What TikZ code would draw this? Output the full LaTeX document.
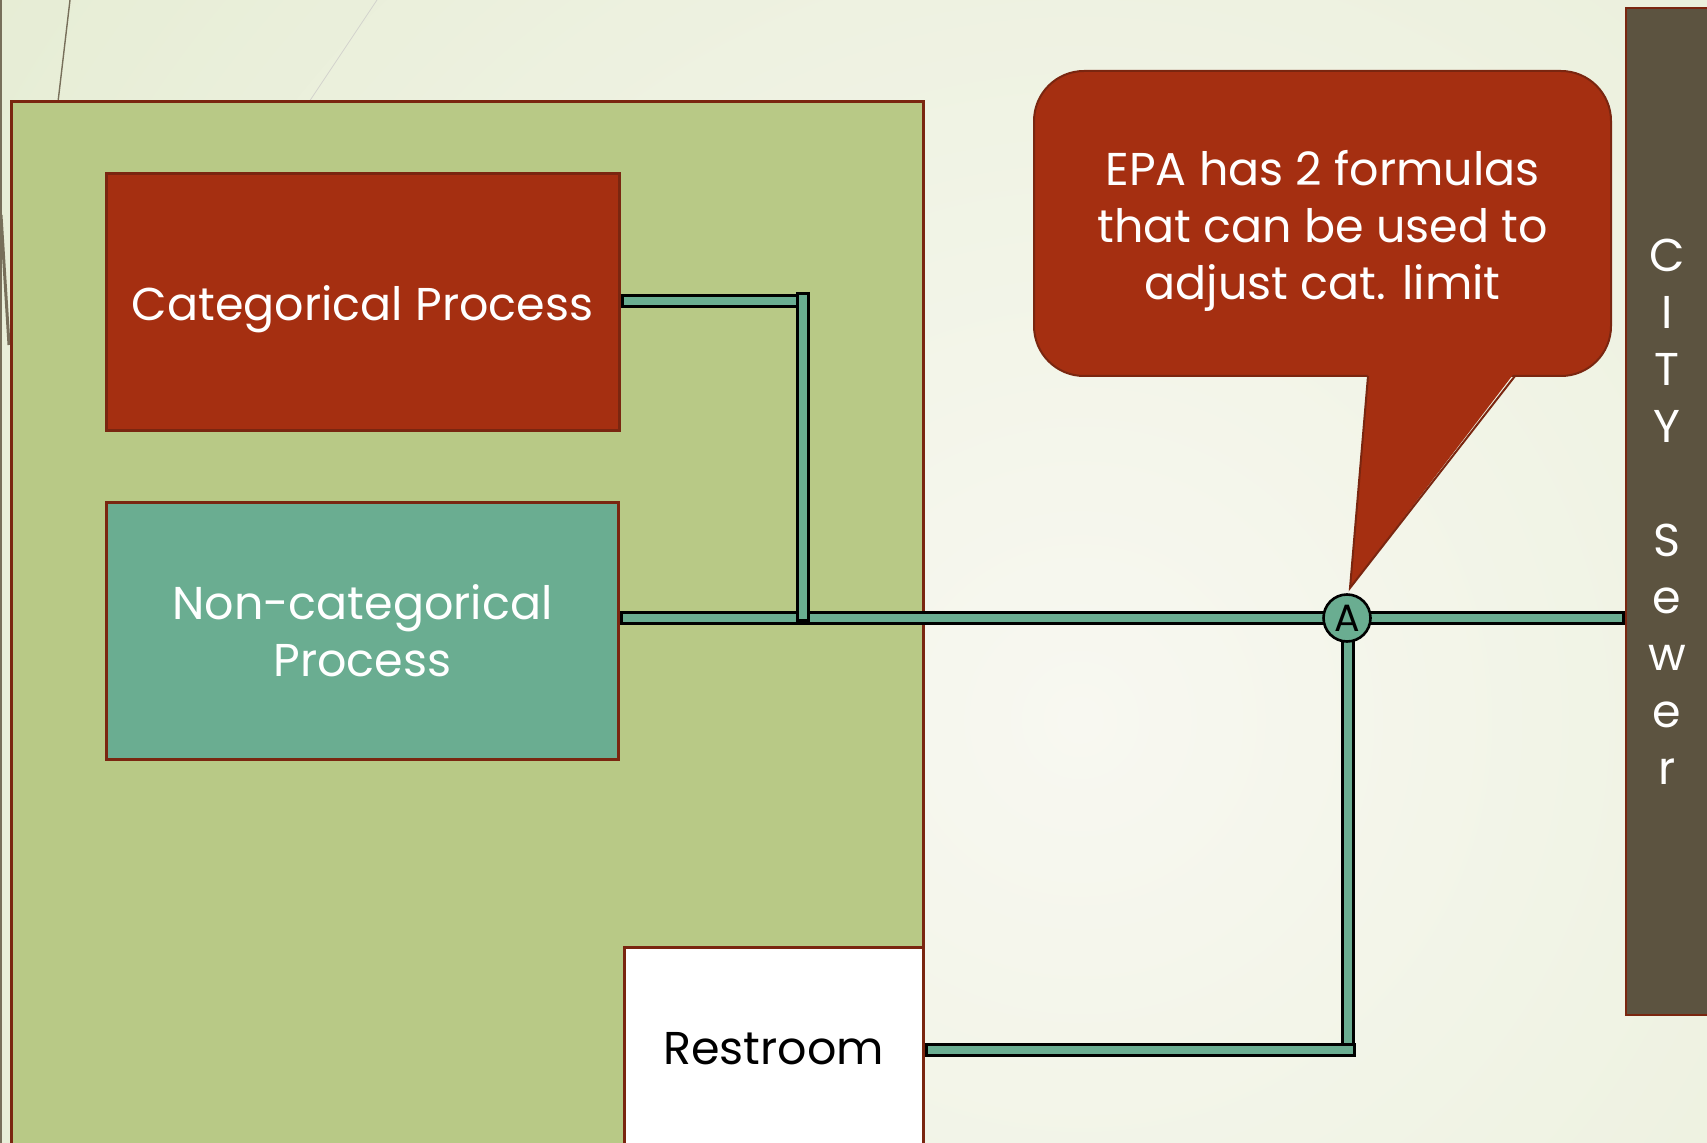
\documentclass[tikz,border=0pt]{standalone}
\usepackage{fontspec}
\setmainfont{Poppins}
\usepackage{tikz}
\usetikzlibrary{positioning}
\definecolor{bgpale}{HTML}{F8F8F1}
\definecolor{bggreen}{HTML}{DDE7C6}
\definecolor{plantgreen}{HTML}{B8C986}
\definecolor{rust}{HTML}{A52F11}
\definecolor{rustdark}{HTML}{7A2610}
\definecolor{pipeteal}{HTML}{6AAD91}
\definecolor{sewerbrown}{HTML}{5C5340}
\definecolor{themegray}{HTML}{776F5A}
\tikzset{
    plant diagram/.style={
            x=0.5pt,y=-0.5pt,
            every node/.style={inner sep=0pt, align=center},
            box/.style={rectangle, draw=rustdark, line width=1.5pt},
            pipe/.style={preaction={draw=black, line width=7pt, shorten <=0pt, shorten >=0pt},
                    draw=pipeteal, line width=3.6pt, shorten <=1.7pt, shorten >=1.7pt},
            big text/.style={font=\fontsize{23}{28.5}\selectfont}
        }
    }

\begin{document}
\begin{tikzpicture}[plant diagram]
        \useasboundingbox (0,0) rectangle (1707,1143);
        \clip (0,0) rectangle (1707,1143);
        % slide background
        \fill [bggreen] (0,0) rectangle (1707,1143);
        \shade [inner color=bgpale, outer color=bggreen] (1080,720) circle (2000);
        \fill [themegray] (0,0) rectangle (2,1143);
        \draw [themegray, line width=0.7pt] (70,0) -- (58,102);
        \draw [black!15!bgpale, line width=0.4pt] (377,0) -- (309,102);
        \draw [themegray, line width=1.5pt] (1,215) -- (9,345);

        \node (plant) [box, fill=plantgreen, minimum width=456pt, minimum height=524pt] at (467,626) {};
        \node (cat) [box, fill=rust, minimum width=256.5pt, minimum height=128.5pt] at (362.5,302.5) {};
        \node (catlabel) [text=white, big text, yshift=-3.5pt] at (cat) {Categorical Process};
        \node (noncat) [box, fill=pipeteal, text=white, big text, minimum width=256pt, minimum height=128pt, below of=cat, node distance=164.25pt] {Non-categorical\\Process};
        \node (restroom) [box, fill=white, big text, minimum width=149.5pt, minimum height=101.5pt] at (773.5,1048.5) {Restroom};
        \node (sewer) [rectangle, draw=rustdark, line width=0.8pt, fill=sewerbrown, text=white, font=\fontsize{23}{28.5}\selectfont, minimum width=41pt, minimum height=503.5pt] at (1667,511.5) {C\\I\\T\\Y\\[28.5pt]S\\e\\w\\e\\r};

        \coordinate (catline) at (803,301);
        \coordinate (risertop) at (803,292);
        \coordinate (riserfoot) at (803,622);
        \coordinate (tap) at (1347,618);
        \coordinate (bend) at (1348,1050);
        \coordinate (bendend) at (1356,1050);

        % pipes
        \draw [pipe] (noncat.east |- tap) -- (sewer.west |- tap);
        \draw [pipe] (cat.east |- catline) -- (catline);
        \draw [pipe] (risertop) -- (riserfoot);
        \draw [pipe] (tap -| bend) -- (bend);
        \draw [pipe] (restroom.east |- bend) -- (bendend);
        \node (sampleA) [circle, draw=black, line width=1.3pt, fill=pipeteal, minimum size=23.5pt, font=\fontsize{19}{19}\selectfont] at (tap) {A};

        % callout
        \node (callout) [fill=rust, draw=rustdark, line width=1pt, rounded corners=25pt, minimum width=288.5pt, minimum height=152.5pt] at (1322.5,223.5) {};
        \node (callouttext) [text=white, big text, yshift=-3.5pt] at (callout) {EPA has 2 formulas\\that can be used to\\adjust cat. limit};
        \coordinate (tip) at (1350,588);
        \fill [rust] (1368,372) -- (tip) -- (1515,372) -- cycle;
        \draw [rustdark, line width=1pt] (1368,376) -- (tip) -- (1515,376);
    \end{tikzpicture}
\end{document}
